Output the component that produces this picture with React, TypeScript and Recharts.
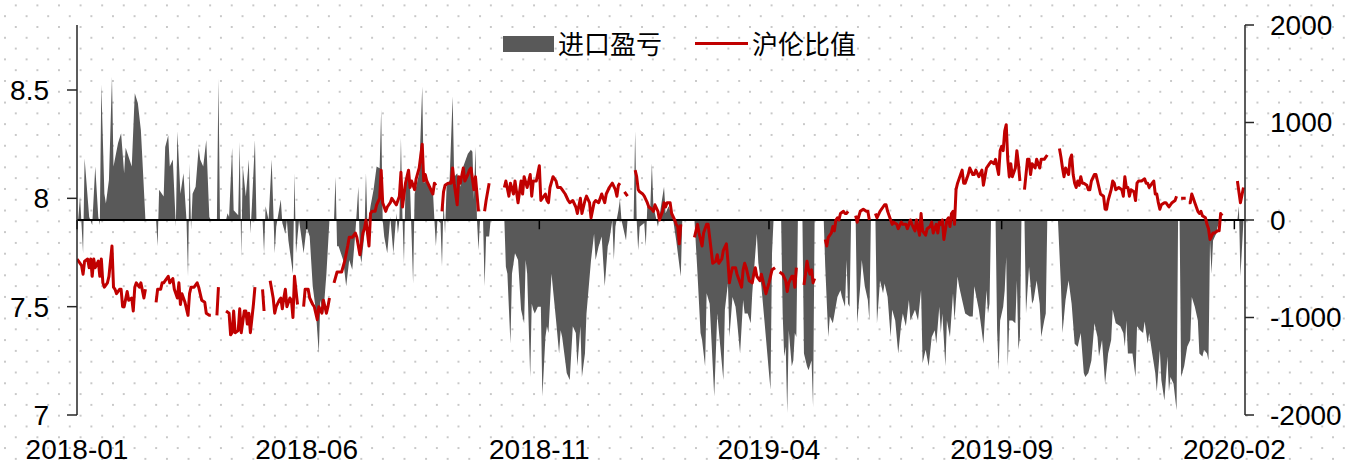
import React from 'react';
import { ComposedChart, Area, Line, XAxis, YAxis, ReferenceLine } from 'recharts';

// x values are days counted from 2018-01-01
const tickDays = [0, 151, 304, 455, 608, 761];
const tickLabels = ['2018-01', '2018-06', '2018-11', '2019-04', '2019-09', '2020-02'];
const leftTicks = [7, 7.5, 8, 8.5];
const rightTicks = [-2000, -1000, 0, 1000, 2000];
const seriesNames = ['进口盈亏', '沪伦比值'];

// 进口盈亏 (import profit/loss): [day, value]
const profitPoints: [number, number][] = [
  [0,-140],[2,240],[4,-340],[5,630],[8,30],[10,-50],[12,550],[14,30],[15,-50],[16,1390],
  [18,270],[19,170],[21,410],[23,1470],[24,550],[27,790],[29,890],[31,480],[32,740],[36,550],
  [38,1300],[40,1200],[42,920],[43,620],[45,0],[52,0],[53,-270],[54,310],[57,240],[58,750],
  [60,870],[61,550],[63,620],[65,-70],[66,910],[68,270],[70,480],[72,0],[73,-580],[74,580],
  [75,-100],[76,270],[78,340],[80,740],[81,620],[83,550],[85,820],[87,30],[88,0],
  [92,0],[93,1450],[94,0],[98,0],[99,70],[100,30],[102,740],[103,100],[106,50],[107,800],
  [108,-380],[109,550],[111,240],[113,620],[114,-140],[115,140],[117,820],[118,0],[122,0],[123,-340],
  [124,140],[126,0],[128,620],[130,-340],[131,-70],[134,210],[135,-30],[137,-140],[138,0],[139,-210],
  [142,-550],[143,480],[144,-340],[146,0],[149,-340],[151,-70],[153,-170],[155,-680],[157,-920],[159,-1370],
  [160,-820],[162,-960],[164,-550],[166,0],[169,0],[170,440],[171,-270],[172,-270],[175,-410],[177,-680],
  [179,-410],[181,-510],[183,-140],[185,340],[186,-340],
  [187,-440],[189,-140],[190,480],[191,-70],[193,140],[195,310],[197,550],[199,530],[200,1130],[201,0],
  [202,-170],[204,-340],[206,30],[208,-340],[210,70],[211,-140],[212,0],[213,840],[214,30],[215,-440],
  [216,340],[218,510],[219,340],[221,-650],[222,270],[224,410],[225,480],[227,1370],[228,380],[230,410],
  [232,340],[234,310],[235,0],[236,-270],[237,0],[239,-30],[240,-480],[241,210],[242,-140],[243,340],
  [245,410],[247,1270],[248,440],[250,480],[252,340],[254,550],[257,680],[259,720],[260,700],[261,210],
  [262,750],[263,0],[264,-310],[265,0],[267,0],[268,-680],[269,-170],[271,-170],[272,0],[281,0],
  [282,-480],[283,-550],[285,-1270],[286,-550],[288,-340],[290,-410],[292,-920],[294,-1060],[295,-410],[296,-550],
  [298,-1610],[299,-860],[300,-920],[301,-960],[303,-890],[305,-890],[306,-1810],[308,-1200],[309,-1090],[310,-1160],
  [312,-550],[315,-1030],[317,-1370],[318,-1130],[319,-1200],[321,-1440],[322,-1570],[324,-1640],[326,-1090],[328,-1160],
  [329,-1500],[331,-1090],[332,-1610],[334,-1370],[335,-960],[338,-410],[340,-140],[341,-410],[343,-270],[345,-170],
  [347,-680],[349,-270],[350,-210],[352,0],[353,-410],[354,-70],[356,100],[357,210],[358,0],[361,-210],
  [362,0],[366,0],[367,910],[368,0],[369,-310],[370,-70],[373,-30],[374,-270],[375,140],
  [377,140],[378,580],[379,140],[382,-70],[384,140],[386,340],[387,70],[389,140],[392,0],[394,-210],
  [397,-580],[398,0],[406,0],[408,-550],[410,-1160],[411,-1230],[413,-1500],[414,-750],[416,-860],[419,-1810],
  [421,-960],[423,-1300],[425,-1640],[426,-920],[428,-650],[429,-1200],[431,-790],[433,-890],[434,-1030],[436,-1370],
  [438,-820],[439,-960],[441,-960],[443,-1060],[444,-750],[447,-140],[448,-440],[450,-680],[452,-1030],[455,-1570],
  [456,-1740],[457,-340],[458,0],[463,0],[464,-960],[465,-1400],[466,-1300],[467,-1980],[468,-1130],[470,-1500],
  [471,-1440],[472,-1160],[473,-1200],[474,0],
  [477,0],[478,-1370],[480,-1500],[481,-1540],[483,-1440],[484,-1920],[485,0],[491,0],[492,-480],[494,-1200],
  [495,-990],[497,-1060],[500,-790],[502,-720],[503,-790],[505,-890],[506,-410],[507,-860],[508,-890],[509,0],
  [512,0],[513,-1060],[515,-680],[516,-410],[518,-680],[520,-820],[521,-1030],[522,0],[525,0],[526,-1060],
  [528,-620],[530,-750],[531,-650],[533,-790],[535,-1200],[536,-920],[538,-1030],[540,-1370],[542,-1060],[543,-960],
  [545,-1090],[547,-820],[548,-1030],[550,-960],[551,-920],[553,-1030],[555,-720],[556,-1470],[558,-1330],[560,-1500],
  [562,-1200],[564,-1130],[565,-1270],[567,-890],[568,-1160],
  [569,-960],[571,-1500],[572,-1030],[574,-1200],[576,-750],[577,-1030],[579,-580],[580,-680],[582,-820],[584,-960],
  [587,-990],[589,-990],[590,-680],[593,-920],[594,-1030],[596,-1270],[598,-720],[599,-960],[600,-860],[601,0],
  [604,0],[605,-1130],[606,-1540],[607,-1030],[609,-890],[610,-720],[611,-380],[612,-1500],[613,-1030],[615,-1030],
  [617,-1060],[618,-620],[619,-1330],[620,-1200],[621,0],[623,0],[624,-960],[626,-480],[628,-860],[629,-820],
  [631,-620],[633,-860],[634,-1200],[636,-1030],[637,-960],[638,0],[645,0],[647,-680],[648,-1160],[650,-820],
  [652,-620],[654,-860],[656,-1270],[658,-1300],[660,-1160],[662,-1570],
  [663,-1610],[665,-1570],[667,-1440],[669,-1060],[671,-1200],[672,-1400],[674,-1230],[676,-1680],[678,-1370],[680,-1230],
  [681,-920],[683,-1060],[686,-1090],[688,-1160],[689,-1300],[690,-1030],[691,-1370],[694,-1370],[696,-1610],[697,-1090],
  [699,-1130],[701,-1160],[702,-1040],[704,-1270],[705,-1160],[707,-1370],[709,-1570],[710,-1760],[712,-1330],[713,-1640],
  [715,-1850],[717,-1400],[718,-1760],[719,-1610],[721,-1680],[723,-1950],[724,0],[725,0],[726,-1610],[728,-1500],
  [730,-1300],[732,-1230],[733,-790],[735,-890],[737,-1030],[738,-1370],[740,-1400],[741,-1330],[743,-1370],[744,-1440],
  [745,-210],[746,-550],[747,-210],[749,-140],[750,-70],[752,0],[763,0],[764,140],[765,-580],[767,0],
];

// 沪伦比值 (SHFE/LME ratio): [day, value], null = no data
const ratioPoints: [number, number | null][] = [
  [0,7.72],[1,7.71],[3,7.69],[4,7.65],[5,7.71],[7,7.72],[8,7.68],[9,7.72],[10,7.64],[11,7.72],
  [12,7.68],[14,7.71],[15,7.64],[16,7.72],[17,7.61],[18,7.59],[20,7.61],[21,7.64],[23,7.78],[24,7.59],
  [25,7.58],[26,7.56],[28,7.58],[29,7.58],[30,7.50],[31,7.50],[33,7.57],[34,7.53],[36,7.54],[37,7.48],
  [38,7.59],[39,7.61],[41,7.59],[42,7.61],[44,7.54],[45,7.58],[48,null],
  [52,7.52],[53,7.58],[55,7.58],[56,7.61],[57,7.61],[58,7.62],[60,7.64],[61,7.61],[63,7.63],[64,7.58],
  [66,7.54],[67,7.61],[68,7.51],[69,7.56],[71,7.52],[73,7.46],[74,7.56],[75,7.59],[77,7.59],[79,7.61],
  [80,7.59],[82,7.53],[84,7.52],[85,7.47],[87,7.46],[88,7.46],[90,null],
  [92,7.46],[93,7.59],[95,null],[98,7.48],[100,7.47],[101,7.37],[102,7.38],[103,7.48],[104,7.38],[106,7.39],
  [107,7.49],[108,7.38],[110,7.48],[111,7.48],[112,7.42],[113,7.47],[114,7.38],[116,7.51],[117,7.59],[119,null],
  [122,7.58],[123,7.48],[125,null],[127,7.62],[129,7.54],[130,7.47],[131,7.50],[133,7.53],[134,7.54],[135,7.49],
  [136,7.54],[137,7.58],[138,7.50],[140,7.54],[141,7.53],[142,7.45],[143,7.64],[145,7.51],[147,null],
  [149,7.50],[150,7.58],[152,7.58],[153,7.54],[155,7.51],[156,7.50],[158,7.44],[159,7.50],[161,7.47],[162,7.53],
  [164,7.47],[165,7.50],[166,7.54],[168,null],[169,7.61],[171,7.66],[172,7.66],[174,7.66],[176,7.71],[178,7.78],
  [179,7.82],[181,7.82],[183,7.84],[184,7.82],[186,7.74],[188,7.84],[189,7.86],[190,7.90],
  [192,7.78],[193,7.93],[194,7.94],[196,7.94],[197,7.97],[199,8.00],[200,8.13],[201,7.98],[203,7.94],[204,7.96],
  [206,7.98],[207,8.00],[208,7.99],[210,7.97],[212,8.01],[213,8.12],[214,7.96],[216,8.07],[218,8.13],[219,8.05],
  [220,8.08],[222,8.04],[223,8.09],[225,8.14],[227,8.25],[228,8.08],[229,8.11],[230,8.08],[232,8.05],[234,8.02],
  [235,8.07],[236,8.06],[238,null],[240,7.94],[241,8.03],[242,8.06],[244,8.07],[246,8.07],[247,8.14],[248,8.07],
  [250,7.97],[251,8.10],[252,8.07],[254,8.14],[255,8.08],[257,8.11],[258,8.13],[259,8.14],[261,8.04],[262,8.10],
  [264,7.94],[266,null],[268,7.94],[269,7.99],[271,8.07],[275,null],[281,8.05],
  [282,8.08],[284,8.01],[285,8.07],[287,8.02],[288,8.08],[290,7.98],[292,8.08],[293,8.02],[294,8.10],[296,8.05],
  [298,8.11],[299,8.01],[300,8.08],[302,8.08],[304,8.15],[305,7.99],[307,8.01],[308,8.02],[309,7.99],[310,7.98],
  [311,8.05],[313,8.10],[315,8.08],[316,8.05],[318,8.05],[319,8.04],[321,8.02],[323,7.99],[324,7.98],[326,7.99],
  [328,7.96],[329,7.93],[331,8.00],[332,7.93],[334,7.99],[335,8.01],[337,7.98],[338,7.91],[340,7.98],[341,7.99],
  [343,7.98],[345,8.02],[347,7.98],[348,8.02],[350,8.05],[352,8.07],[354,8.04],[355,8.01],[356,8.06],[357,8.07],
  [359,null],[360,8.03],[362,8.01],[364,null],[367,8.13],[368,8.10],[369,8.04],[370,8.03],[372,8.02],[373,8.01],
  [375,7.98],[376,7.96],[378,7.95],
  [379,7.94],[380,7.97],[382,7.94],[383,7.90],[385,7.94],[386,7.98],[387,7.96],[388,7.98],[390,7.98],[391,7.93],
  [393,7.90],[394,7.88],[395,7.87],[396,7.79],[397,7.88],[400,null],[406,7.82],[408,7.88],[409,7.84],[411,7.78],
  [412,7.84],[414,7.88],[415,7.88],[416,7.82],[417,7.76],[418,7.70],[420,7.71],[421,7.74],[422,7.70],[424,7.72],
  [425,7.76],[427,7.79],[428,7.71],[429,7.61],[430,7.65],[431,7.68],[433,7.68],[434,7.65],[436,7.61],[437,7.59],
  [438,7.67],[439,7.70],[440,7.68],[442,7.62],[444,7.61],[445,7.65],[446,7.68],[447,7.64],[449,7.62],[450,7.65],
  [452,7.59],[453,7.56],[455,7.61],[456,7.64],[457,7.67],[459,7.68],[461,null],[462,7.66],[464,7.65],[466,7.62],
  [467,7.57],[468,7.61],[470,7.64],[471,7.64],[472,7.59],[473,7.68],[475,null],
  [478,7.60],[479,7.65],[480,7.71],[481,7.67],[482,7.65],[483,7.67],[484,7.61],[485,7.63],[488,null],
  [492,7.81],[493,7.78],[494,7.82],[496,7.84],[497,7.87],[498,7.85],[499,7.90],[500,7.91],[501,7.90],[502,7.93],
  [504,7.94],[505,7.93],[506,7.93],[507,7.94],[510,null],[512,7.92],[513,7.89],[515,7.94],[517,7.95],[519,7.94],
  [520,7.94],[521,7.90],[523,null],[525,7.93],[526,7.91],[528,7.94],[530,7.96],[531,7.97],[532,7.97],[533,7.94],
  [535,7.90],[536,7.88],[537,7.89],[539,7.88],[540,7.86],[542,7.89],[543,7.88],[545,7.88],[546,7.86],[548,7.90],
  [549,7.88],[551,7.85],[552,7.90],[554,7.83],[555,7.93],[556,7.85],[558,7.83],[559,7.86],[561,7.87],[562,7.89],
  [563,7.84],[564,7.86],[565,7.88],[566,7.84],[567,7.89],[568,7.88],
  [569,7.90],[570,7.81],[572,7.90],[573,7.91],[574,7.87],[575,7.93],[576,7.94],[577,7.88],[578,8.04],[579,8.07],
  [581,8.11],[582,8.13],[583,8.07],[584,8.07],[586,8.11],[587,8.14],[589,8.11],[590,8.11],[591,8.13],[593,8.10],
  [595,8.13],[596,8.06],[598,8.14],[599,8.15],[600,8.16],[601,8.17],[603,8.16],[604,8.18],[606,8.11],[607,8.22],
  [608,8.24],[609,8.22],[610,8.31],[611,8.34],[612,8.18],[613,8.10],[614,8.16],[615,8.10],[617,8.14],[618,8.22],
  [619,8.16],[620,8.08],[622,null],[623,8.04],[625,8.18],[626,8.18],[627,8.11],[628,8.16],[630,8.14],[631,8.18],
  [633,8.14],[634,8.18],[636,8.18],[637,8.19],[638,8.20],[642,null],[646,8.23],[647,8.19],[648,8.14],[649,8.10],
  [650,8.14],[652,8.11],[653,8.18],[654,8.20],[655,8.11],[656,8.07],[657,8.05],[658,8.08],[659,8.06],[660,8.10],
  [661,8.07],[662,8.07],[664,8.06],[665,8.04],
  [666,8.04],[667,8.08],[669,8.11],[670,8.11],[671,8.08],[672,8.05],[673,8.02],[675,8.01],[676,7.95],[677,7.95],
  [678,7.99],[680,8.04],[681,8.08],[682,8.07],[683,8.04],[685,8.05],[687,8.04],[688,8.01],[689,8.10],[690,8.05],
  [691,8.05],[692,8.01],[693,8.04],[695,8.03],[696,7.99],[697,8.07],[698,8.08],[700,8.08],[702,8.09],[703,8.07],
  [704,8.07],[705,8.05],[707,8.07],[708,8.08],[709,8.02],[710,8.02],[711,7.98],[712,7.95],[713,7.97],[715,7.98],
  [716,7.98],[717,7.97],[718,7.96],[720,7.98],[722,7.99],[723,8.01],[725,null],[726,8.00],[727,8.00],[729,8.00],
  [730,null],[731,7.98],[732,7.98],[733,8.02],[734,8.00],[735,7.98],[737,7.94],[738,7.93],[739,7.94],[740,7.92],
  [742,7.91],[743,7.88],[744,7.86],[745,7.81],[747,7.84],[748,7.84],[750,7.85],[751,7.85],[752,7.93],[753,7.92],
  [757,null],[763,8.08],[765,7.98],[767,8.05],
];

const profitData = profitPoints.map(([d, v]) => ({ d, profit: v }));
const ratioData = ratioPoints.map(([d, v]) => ({ d, ratio: v }));

const FONT = '"Noto Sans CJK SC", "Noto Sans", sans-serif';
const NUM_FONT = '"Liberation Sans", Arial, sans-serif';
const AXIS = '#262626';
const GRAY = '#595959';
const RED = '#C00000';
const tickStyle = { fill: '#000', fontSize: 28, fontFamily: NUM_FONT };

export default function App() {
  const dot = 'radial-gradient(circle, #c8c8c8 0.9px, rgba(255,255,255,0) 1.5px)';
  return (
    <div
      style={{
        position: 'relative',
        width: 1351,
        height: 465,
        backgroundColor: '#ffffff',
        backgroundImage: `${dot}, ${dot}`,
        backgroundSize: '21.6px 21.6px',
        backgroundPosition: '-5.8px 5.4px, 5px 16.2px',
        fontFamily: FONT,
        overflow: 'hidden',
      }}
    >
      <style>{'body{margin:0}'}</style>
      <ComposedChart width={1351} height={465} margin={{ top: 25, right: 0, bottom: 0, left: 0 }}>
        <XAxis
          xAxisId="x"
          dataKey="d"
          type="number"
          domain={[0, 768]}
          ticks={tickDays}
          interval={0}
          allowDataOverflow
          tickFormatter={(v: number) => tickLabels[tickDays.indexOf(v)] ?? ''}
          axisLine={false}
          tickLine={false}
          tickSize={0}
          tickMargin={24}
          height={50}
          tick={tickStyle}
        />
        <YAxis
          yAxisId="left"
          orientation="left"
          type="number"
          domain={[7, 8.8]}
          ticks={leftTicks}
          interval={0}
          allowDataOverflow
          width={77}
          tickSize={10}
          tickMargin={18}
          axisLine={{ stroke: AXIS, strokeWidth: 1.5 }}
          tickLine={{ stroke: AXIS, strokeWidth: 1.5 }}
          tick={tickStyle}
        />
        <YAxis
          yAxisId="right"
          orientation="right"
          type="number"
          domain={[-2000, 2000]}
          ticks={rightTicks}
          interval={0}
          allowDataOverflow
          width={106}
          tickSize={9}
          tickMargin={16}
          axisLine={{ stroke: AXIS, strokeWidth: 1.5 }}
          tickLine={{ stroke: AXIS, strokeWidth: 1.5 }}
          tick={tickStyle}
        />
        <Area
          xAxisId="x"
          yAxisId="right"
          data={profitData}
          dataKey="profit"
          name={seriesNames[0]}
          type="linear"
          fill={GRAY}
          fillOpacity={1}
          stroke="none"
          isAnimationActive={false}
        />
        <ReferenceLine xAxisId="x" yAxisId="right" y={0} stroke="#000" strokeWidth={2} />
        {tickDays.map((d) => (
          <ReferenceLine
            key={d}
            xAxisId="x"
            yAxisId="right"
            segment={[{ x: d, y: 0 }, { x: d, y: -95 }]}
            stroke="#000"
            strokeWidth={1.5}
          />
        ))}
        <Line
          xAxisId="x"
          yAxisId="left"
          data={ratioData}
          dataKey="ratio"
          name={seriesNames[1]}
          type="linear"
          stroke={RED}
          strokeWidth={3}
          strokeLinejoin="round"
          dot={false}
          activeDot={false}
          connectNulls={false}
          isAnimationActive={false}
        />
      </ComposedChart>
      <div style={{ position: 'absolute', left: 503, top: 36, width: 51, height: 16, background: GRAY }} />
      <div style={{ position: 'absolute', left: 558, top: 30, fontSize: 26, lineHeight: '26px', color: '#000', whiteSpace: 'nowrap' }}>
        {seriesNames[0]}
      </div>
      <div style={{ position: 'absolute', left: 695, top: 41.5, width: 53, height: 3, background: RED }} />
      <div style={{ position: 'absolute', left: 752, top: 30, fontSize: 26, lineHeight: '26px', color: '#000', whiteSpace: 'nowrap' }}>
        {seriesNames[1]}
      </div>
    </div>
  );
}
